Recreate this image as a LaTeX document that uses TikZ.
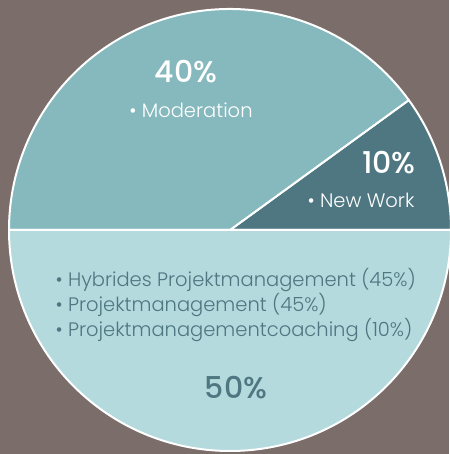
\documentclass[tikz,border=0pt]{standalone}
\usepackage{fontspec}
\setmainfont{Poppins}[UprightFont=*-Light,BoldFont=*-Medium]
\definecolor{bgbrown}{RGB}{123,109,106}
\definecolor{piedark}{RGB}{79,119,129}
\definecolor{piemid}{RGB}{133,185,189}
\definecolor{pielight}{RGB}{180,218,221}
\tikzset{
  pct/.style={font=\fontsize{30}{30}\selectfont\bfseries},
  item/.style={font=\fontsize{19.5}{25}\selectfont},
}
\begin{document}
\begin{tikzpicture}[x=1pt,y=1pt,line join=round,line cap=round]
	\useasboundingbox (0,0) rectangle (449,454);
	\fill[bgbrown] (0,0) rectangle (449,454);
	\foreach \a/\b/\c in {0/36/piedark,36/180/piemid,180/360/pielight}
	\draw[white,line width=2pt,fill=\c] (230,224)--++(\a:221) arc(\a:\b:221)--cycle;
	\node[pct,white] (p40) at (186,382) {40\%};
	\node[item,white] (mod) at (191,344) {• Moderation};
	\node[pct,white] (p10) at (389,291) {10\%};
	\node[item,white] (nw) at (361,254) {• New Work};
	\node[item,piedark,anchor=west,align=left] (pm) at (52,149) {• Hybrides Projektmanagement (45\%)\\• Projektmanagement (45\%)\\• Projektmanagementcoaching (10\%)};
	\node[pct,piedark] (p50) at (236,66) {50\%};
\end{tikzpicture}
\end{document}
